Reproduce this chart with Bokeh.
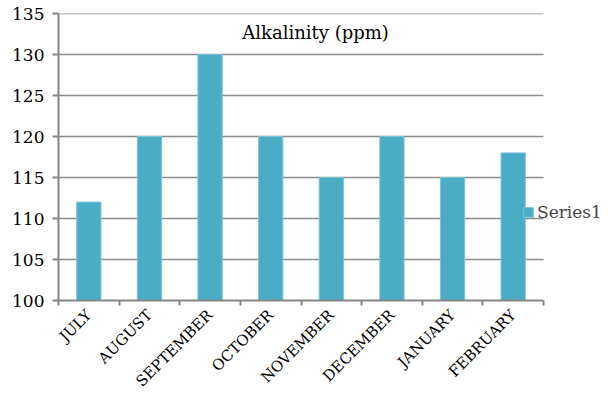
import numpy as np
from bokeh.plotting import figure
from bokeh.models import FixedTicker, Range1d, Label, Legend, LegendItem, ColumnDataSource
from bokeh.embed import file_html
from bokeh.resources import INLINE
from math import pi

months = ["JULY", "AUGUST", "SEPTEMBER", "OCTOBER", "NOVEMBER", "DECEMBER", "JANUARY", "FEBRUARY"]
alkalinity = [112, 120, 130, 120, 115, 120, 115, 118]
y_ticks = [100, 105, 110, 115, 120, 125, 130, 135]
series_name = "Series1"
chart_title = "Alkalinity (ppm)"

n = len(months)
centers = list(np.arange(n) + 0.5)
src = ColumnDataSource(dict(x=centers, top=alkalinity, month=months))
grid_src = ColumnDataSource(dict(y=y_ticks[1:], x0=[0] * (len(y_ticks) - 1), x1=[n] * (len(y_ticks) - 1)))

FONT = "DejaVu Serif"
GRAY = "#868686"
BAR = "#4BACC6"

W, H = 609, 400
LEFT, TOP, BOTTOM = 58, 13, 100
PLOT_W = 485  # width of the category area in pixels
frame_w = W - LEFT

p = figure(width=W, height=H, output_backend="svg", toolbar_location=None,
           x_range=Range1d(0, n * frame_w / PLOT_W), y_range=Range1d(100, 135),
           min_border_left=LEFT, min_border_right=0, min_border_top=TOP, min_border_bottom=BOTTOM)
p.outline_line_color = None
p.background_fill_color = "white"

# horizontal gridlines limited to the category area
p.segment(x0="x0", x1="x1", y0="y", y1="y", source=grid_src, line_color="#8c8c8c", line_width=1.5)

r = p.vbar(x="x", top="top", bottom=100, width=0.4, source=src,
           fill_color=BAR, line_color="#7CC3D6", line_width=1)

# axes
p.yaxis.ticker = FixedTicker(ticks=y_ticks)
p.yaxis.axis_line_color = GRAY
p.yaxis.axis_line_width = 2
p.yaxis.major_tick_line_color = GRAY
p.yaxis.major_tick_line_width = 2
p.yaxis.major_tick_out = 6
p.yaxis.major_tick_in = 0
p.yaxis.minor_tick_line_color = None
p.yaxis.major_label_text_font = FONT
p.yaxis.major_label_text_font_size = "17px"
p.yaxis.major_label_text_color = "black"
p.yaxis.major_label_standoff = 8

p.xaxis.bounds = (0, n)
p.xaxis.ticker = FixedTicker(ticks=centers, minor_ticks=list(range(n + 1)))
p.xaxis.major_label_overrides = {c: m for c, m in zip(centers, months)}
p.xaxis.axis_line_color = GRAY
p.xaxis.axis_line_width = 2
p.xaxis.major_tick_line_color = None
p.xaxis.minor_tick_line_color = GRAY
p.xaxis.minor_tick_line_width = 2
p.xaxis.minor_tick_out = 5
p.xaxis.minor_tick_in = 0
p.xaxis.major_label_orientation = pi / 4
p.xaxis.major_label_text_font = FONT
p.xaxis.major_label_text_font_size = "15px"
p.xaxis.major_label_text_color = "black"
p.xaxis.major_label_standoff = 6

p.xgrid.grid_line_color = None
p.ygrid.grid_line_color = None

title = Label(x=4.24, y=132.7, text=chart_title, text_font=FONT, text_font_size="18px",
              text_align="center", text_baseline="middle", text_color="black")
p.add_layout(title)

legend = Legend(items=[LegendItem(label=series_name, renderers=[r])], location=(464, 78),
                label_text_font=FONT, label_text_font_size="17px", glyph_width=12, glyph_height=12,
                label_standoff=3, padding=0, margin=0, spacing=0,
                background_fill_alpha=0, border_line_color=None)
p.add_layout(legend, "center")

open("out.html", "w").write(file_html(p, INLINE))
